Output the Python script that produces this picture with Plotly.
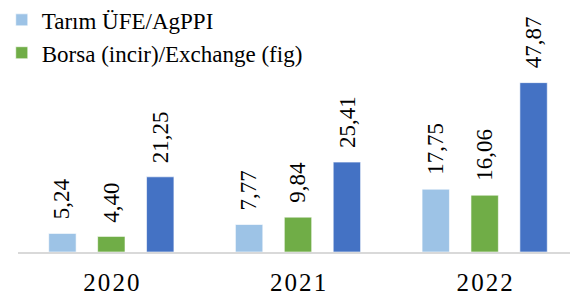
import plotly.graph_objects as go

years = ["2020", "2021", "2022"]
tick_labels = ["2\u200a0\u200a2\u200a0", "2\u200a0\u200a2\u200a1", "2\u200a0\u200a2\u200a2"]
agppi = [5.24, 7.77, 17.75]
exchange_fig = [4.40, 9.84, 16.06]
third_series = [21.25, 25.41, 47.87]

series_names = ["Tarım ÜFE/AgPPI", "Borsa (incir)/Exchange (fig)", "Seri 3"]
series_values = [agppi, exchange_fig, third_series]
colors = ["#9DC3E6", "#70AD47", "#4472C4"]
show_leg = [True, True, False]

FONT = "Liberation Serif, Times New Roman, serif"

fig = go.Figure()
for name, vals, col, sl in zip(series_names, series_values, colors, show_leg):
    fig.add_trace(go.Bar(
        x=years, y=vals, name=name, showlegend=sl,
        marker=dict(color=col, line=dict(color="white", width=0.6)),
    ))

def fmt(v):
    return f"{v:.2f}".replace(".", ",")

slot = 49
for i, vals in enumerate(series_values):
    for k, v in enumerate(vals):
        fig.add_annotation(
            x=k, y=v, text=fmt(v), showarrow=False,
            textangle=-90, xanchor="center", yanchor="bottom",
            xshift=(i - 1) * slot, yshift=12,
            font=dict(family=FONT, size=23, color="black"),
        )

fig.update_layout(
    width=570, height=288,
    margin=dict(l=10, r=0, t=2, b=44, autoexpand=False),
    paper_bgcolor="white", plot_bgcolor="white",
    barmode="group", bargap=0.214, bargroupgap=0.44,
    font=dict(family=FONT, color="black"),
    legend=dict(
        x=-0.029, y=1.048, xanchor="left", yanchor="top",
        font=dict(family=FONT, size=23, color="black"),
        bgcolor="rgba(0,0,0,0)", tracegroupgap=0,
    ),
    xaxis=dict(
        type="category", automargin=False,
        range=[-0.5, 2.5], autorange=False,
        showline=True, linecolor="#d9d9d9", linewidth=2,
        showgrid=False, ticks="", tickangle=0,
        tickvals=years, ticktext=tick_labels,
        tickfont=dict(family=FONT, size=25, color="black"),
        ticklabelstandoff=7,
    ),
    yaxis=dict(
        range=[0, 68.4], autorange=False, showgrid=False, showticklabels=False,
        zeroline=False, showline=False, automargin=False,
    ),
)

fig.write_html("out.html")
